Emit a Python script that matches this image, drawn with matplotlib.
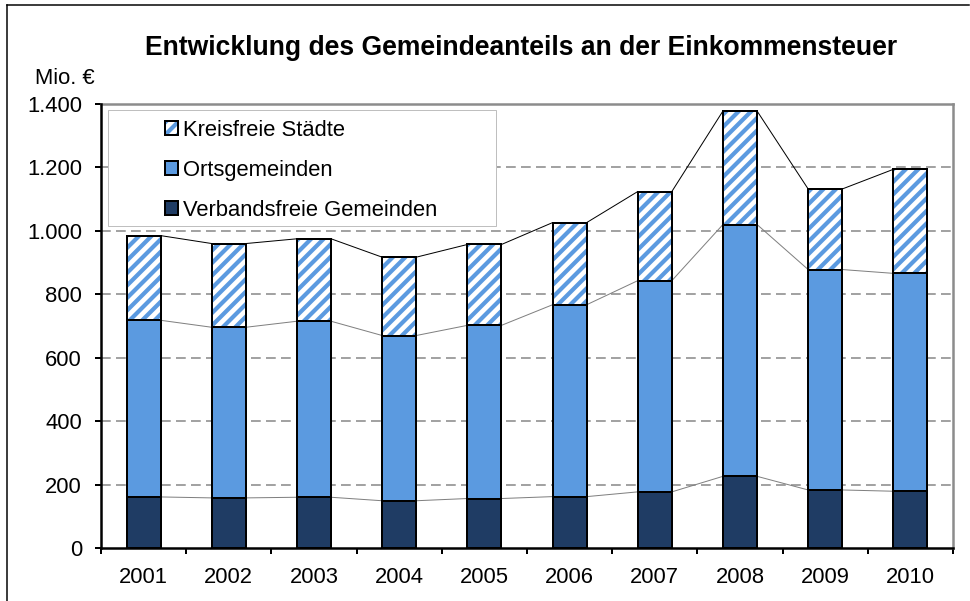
import matplotlib
matplotlib.use("Agg")
import matplotlib.pyplot as plt
from matplotlib.patches import Patch, Rectangle
from matplotlib.lines import Line2D
import numpy as np

# ---- data ----
years = ["2001", "2002", "2003", "2004", "2005", "2006", "2007", "2008", "2009", "2010"]
verbandsfreie = [161, 158, 160, 149, 156, 162, 177, 226, 183, 179]
ortsgemeinden = [557, 538, 555, 521, 546, 605, 666, 794, 695, 687]
kreisfreie = [267, 264, 260, 247, 255, 259, 281, 358, 254, 328]
series_names = ["Kreisfreie Städte", "Ortsgemeinden", "Verbandsfreie Gemeinden"]
yticks = [0, 200, 400, 600, 800, 1000, 1200, 1400]
ytick_labels = ["0", "200", "400", "600", "800", "1.000", "1.200", "1.400"]
title = "Entwicklung des Gemeindeanteils an der Einkommensteuer"
ylabel = "Mio. €"

# ---- style ----
DPI = 75
W, H = 970, 601
P = 72.0 / DPI  # px -> pt
plt.rcParams['font.family'] = ['Liberation Sans', 'DejaVu Sans']
plt.rcParams['hatch.linewidth'] = 4.2 * P

c_dark = "#1F3C64"
c_mid = "#5B9AE0"
c_hatch = "#5B9AE0"
FS = 22 * P

fig = plt.figure(figsize=(W / DPI, H / DPI), dpi=DPI)
L, R, T, B = 101, 953, 104, 548
ax = fig.add_axes([L / W, 1 - B / H, (R - L) / W, (B - T) / H])

x = np.arange(len(years))
bw = 0.40
v = np.array(verbandsfreie)
o = np.array(ortsgemeinden)
k = np.array(kreisfreie)

ax.bar(x, v, bw, color=c_dark, edgecolor="black", linewidth=2 * P, zorder=3)
ax.bar(x, o, bw, bottom=v, color=c_mid, edgecolor="black", linewidth=2 * P, zorder=3)
ax.bar(x, k, bw, bottom=v + o, color="white", edgecolor=c_hatch, linewidth=0,
       hatch="//", zorder=3)
ax.bar(x, k, bw, bottom=v + o, fill=False, edgecolor="black", linewidth=2 * P, zorder=4)

# series lines
levels = [(v, "#808080"), (v + o, "#808080"), (v + o + k, "black")]
for lev, col in levels:
    for i in range(len(x) - 1):
        ax.plot([x[i] + bw / 2, x[i + 1] - bw / 2], [lev[i], lev[i + 1]],
                color=col, linewidth=1.0 * P, zorder=2)

ax.set_xlim(-0.5, len(x) - 0.5)
ax.set_ylim(0, 1400)
ax.set_yticks(yticks)
ax.set_yticklabels(ytick_labels)
ax.set_xticks(x)
ax.set_xticklabels(years)
ax.set_xticks(np.arange(-0.5, len(x), 1.0), minor=True)
ax.tick_params(axis='x', which='major', length=0, pad=19 * P, labelsize=FS)
ax.tick_params(axis='x', which='minor', length=6 * P, width=2 * P, direction='out')
ax.tick_params(axis='y', which='major', length=6 * P, width=2 * P, direction='out',
               pad=13 * P, labelsize=FS)

for yv in yticks[1:-1]:
    ax.axhline(yv, color="#858585", linewidth=1.5 * P, linestyle=(0, (6.5, 3.5)), zorder=1)

ax.spines['left'].set_color('black')
ax.spines['left'].set_linewidth(2.5 * P)
ax.spines['bottom'].set_color('black')
ax.spines['bottom'].set_linewidth(2.5 * P)
ax.spines['top'].set_color('#8C8C8C')
ax.spines['top'].set_linewidth(2.5 * P)
ax.spines['right'].set_color('#8C8C8C')
ax.spines['right'].set_linewidth(2.5 * P)
ax.spines['bottom'].set_zorder(5)
ax.spines['left'].set_zorder(5)

# title and unit label
fig.text(521 / W, 1 - 48 / H, title, ha='center', va='center',
         fontsize=26.5 * P, fontweight='bold')
fig.text(95 / W, 1 - 84 / H, ylabel, ha='right', va='baseline', fontsize=FS)

# legend frame
fig.patches.append(Rectangle((108 / W, 1 - 226 / H), (496 - 108) / W, (226 - 110) / H,
                             transform=fig.transFigure, facecolor='white',
                             edgecolor='#BFBFBF', linewidth=1 * P, zorder=5))
h_k = (Patch(facecolor='white', edgecolor=c_hatch, linewidth=0, hatch='//'),
       Patch(fill=False, edgecolor='black', linewidth=2 * P))
h_o = Patch(facecolor=c_mid, edgecolor='black', linewidth=2 * P)
h_v = Patch(facecolor=c_dark, edgecolor='black', linewidth=2 * P)
leg = fig.legend([h_k, h_o, h_v], series_names, loc='upper left',
                 bbox_to_anchor=(165 / W, 1 - 120 / H), bbox_transform=fig.transFigure,
                 frameon=False, fontsize=FS, borderpad=0, borderaxespad=0,
                 handlelength=0.6, handleheight=0.6, handletextpad=0.2,
                 labelspacing=0.86)
leg.set_zorder(6)

# outer border
fig.add_artist(Line2D([7 / W, 7 / W], [0, 1 - 5 / H], transform=fig.transFigure,
                      color='black', linewidth=1.5 * P))
fig.add_artist(Line2D([7 / W, 969 / W], [1 - 5 / H, 1 - 5 / H], transform=fig.transFigure,
                      color='black', linewidth=1.5 * P))

fig.savefig("out.png", dpi=DPI)
